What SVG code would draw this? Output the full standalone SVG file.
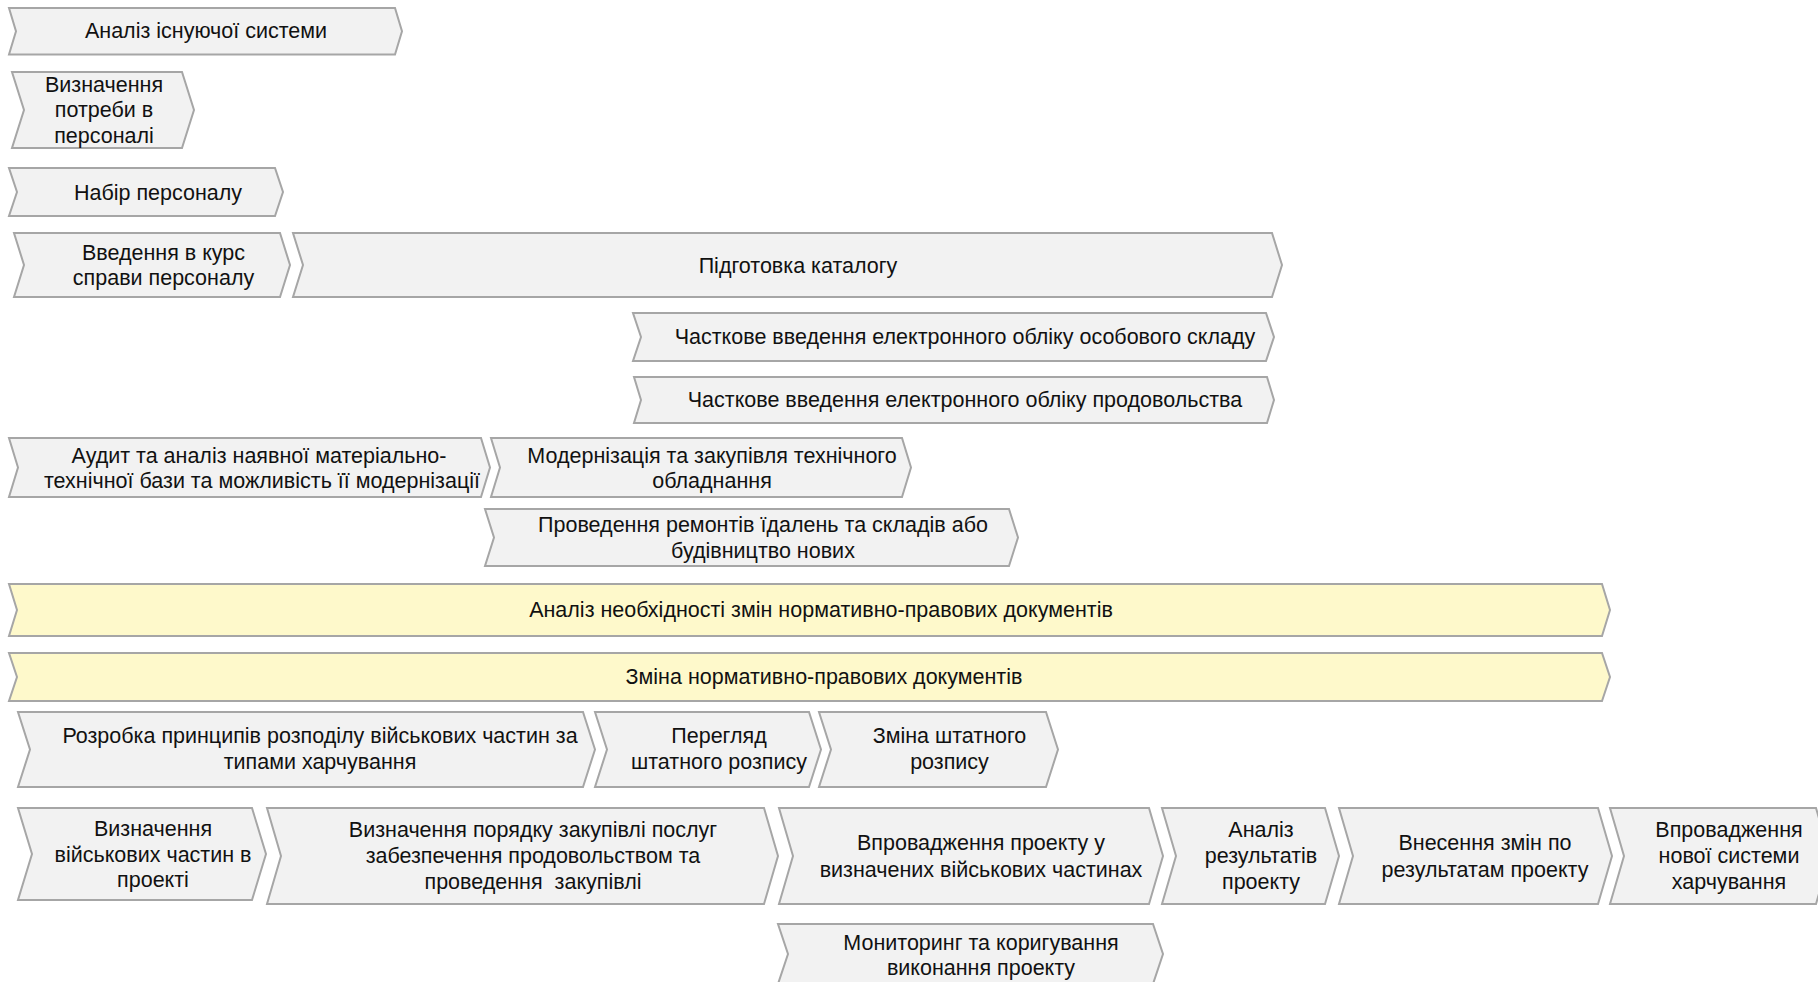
<svg xmlns="http://www.w3.org/2000/svg" width="1818" height="982" viewBox="0 0 1818 982">
<style>
.g{fill:#f2f2f2;stroke:#a6a6a6;stroke-width:2}
.y{fill:#fef9cb;stroke:#a6a6a6;stroke-width:2}
text{font-family:"Liberation Sans",Arial,sans-serif;font-size:21.5px;fill:#111;text-anchor:middle;dominant-baseline:central}
</style>
<rect width="1818" height="982" fill="#fff"/>
<g id="connectors"></g>
<g id="n1"><path class="g" d="M9,8 H395 L402,31.25 L395,54.5 H9 L16,31.25 Z"/><text x="206" y="31">Аналіз існуючої системи</text></g>
<g id="n2"><path class="g" d="M12,72 H182 L194,110 L182,148 H12 L24,110 Z"/><text x="104" y="85">Визначення</text><text x="104" y="110">потреби в</text><text x="104" y="135.5">персоналі</text></g>
<g id="n3"><path class="g" d="M9,168 H275 L283,192 L275,216 H9 L17,192 Z"/><text x="158" y="192.5">Набір персоналу</text></g>
<g id="n4"><path class="g" d="M14,233 H280 L290,265 L280,297 H14 L24,265 Z"/><text x="163.5" y="252.7">Введення в курс</text><text x="163.5" y="278.3">справи персоналу</text></g>
<g id="n5"><path class="g" d="M293,233 H1272 L1282,265 L1272,297 H293 L303,265 Z"/><text x="798" y="265.5">Підготовка каталогу</text></g>
<g id="n6"><path class="g" d="M633,313 H1266 L1274,337 L1266,361 H633 L641,337 Z"/><text x="965" y="337.4">Часткове введення електронного обліку особового складу</text></g>
<g id="n7"><path class="g" d="M634,377 H1267 L1274,400 L1267,423 H634 L641,400 Z"/><text x="965" y="400">Часткове введення електронного обліку продовольства</text></g>
<g id="n8"><path class="g" d="M9,438 H481 L490,467.5 L481,497 H9 L18,467.5 Z"/><text x="259" y="455.6">Аудит та аналіз наявної матеріально-</text><text x="262" y="481.2">технічної бази та можливість її модернізації</text></g>
<g id="n9"><path class="g" d="M491,438 H902 L911,467.5 L902,497 H491 L500,467.5 Z"/><text x="712" y="455.6">Модернізація та закупівля технічного</text><text x="712" y="481.2">обладнання</text></g>
<g id="n10"><path class="g" d="M485,509 H1009 L1018,537.5 L1009,566 H485 L494,537.5 Z"/><text x="763" y="525.2">Проведення ремонтів їдалень та складів або</text><text x="763" y="550.7">будівництво нових</text></g>
<g id="n11"><path class="y" d="M9,584 H1602 L1610,610 L1602,636 H9 L17,610 Z"/><text x="821" y="610">Аналіз необхідності змін нормативно-правових документів</text></g>
<g id="n12"><path class="y" d="M9,653 H1602 L1610,677 L1602,701 H9 L17,677 Z"/><text x="824" y="677">Зміна нормативно-правових документів</text></g>
<g id="n13"><path class="g" d="M18,712 H583 L595,749.5 L583,787 H18 L30,749.5 Z"/><text x="320" y="736.2">Розробка принципів розподілу військових частин за</text><text x="320" y="761.7">типами харчування</text></g>
<g id="n14"><path class="g" d="M595,712 H809 L821,749.5 L809,787 H595 L607,749.5 Z"/><text x="719" y="736.2">Перегляд</text><text x="719" y="761.7">штатного розпису</text></g>
<g id="n15"><path class="g" d="M819,712 H1046 L1058,749.5 L1046,787 H819 L831,749.5 Z"/><text x="949.5" y="736.2">Зміна штатного</text><text x="949.5" y="761.7">розпису</text></g>
<g id="n16"><path class="g" d="M18,808 H252 L266,854 L252,900 H18 L32,854 Z"/><text x="153" y="829">Визначення</text><text x="153" y="854.5">військових частин в</text><text x="153" y="880">проекті</text></g>
<g id="n17"><path class="g" d="M267,808 H764 L778,856 L764,904 H267 L281,856 Z"/><text x="533" y="830">Визначення порядку закупівлі послуг</text><text x="533" y="856">забезпечення продовольством та</text><text x="533" y="882" xml:space="preserve" style="white-space:pre">проведення  закупівлі</text></g>
<g id="n18"><path class="g" d="M779,808 H1149 L1163,856 L1149,904 H779 L793,856 Z"/><text x="981" y="843">Впровадження проекту у</text><text x="981" y="869.5">визначених військових частинах</text></g>
<g id="n19"><path class="g" d="M1162,808 H1325 L1339,856 L1325,904 H1162 L1176,856 Z"/><text x="1261" y="830">Аналіз</text><text x="1261" y="856">результатів</text><text x="1261" y="882">проекту</text></g>
<g id="n20"><path class="g" d="M1339,808 H1598 L1612,856 L1598,904 H1339 L1353,856 Z"/><text x="1485" y="843">Внесення змін по</text><text x="1485" y="869.5">результатам проекту</text></g>
<g id="n21"><path class="g" d="M1610,808 H1816 L1830,856 L1816,904 H1610 L1624,856 Z"/><text x="1729" y="830">Впровадження</text><text x="1729" y="856">нової системи</text><text x="1729" y="882">харчування</text></g>
<g id="n22"><path class="g" d="M778,924 H1153 L1163,954 L1153,984 H778 L788,954 Z"/><text x="981" y="942.6">Мониторинг та коригування</text><text x="981" y="968">виконання проекту</text></g>
</svg>
